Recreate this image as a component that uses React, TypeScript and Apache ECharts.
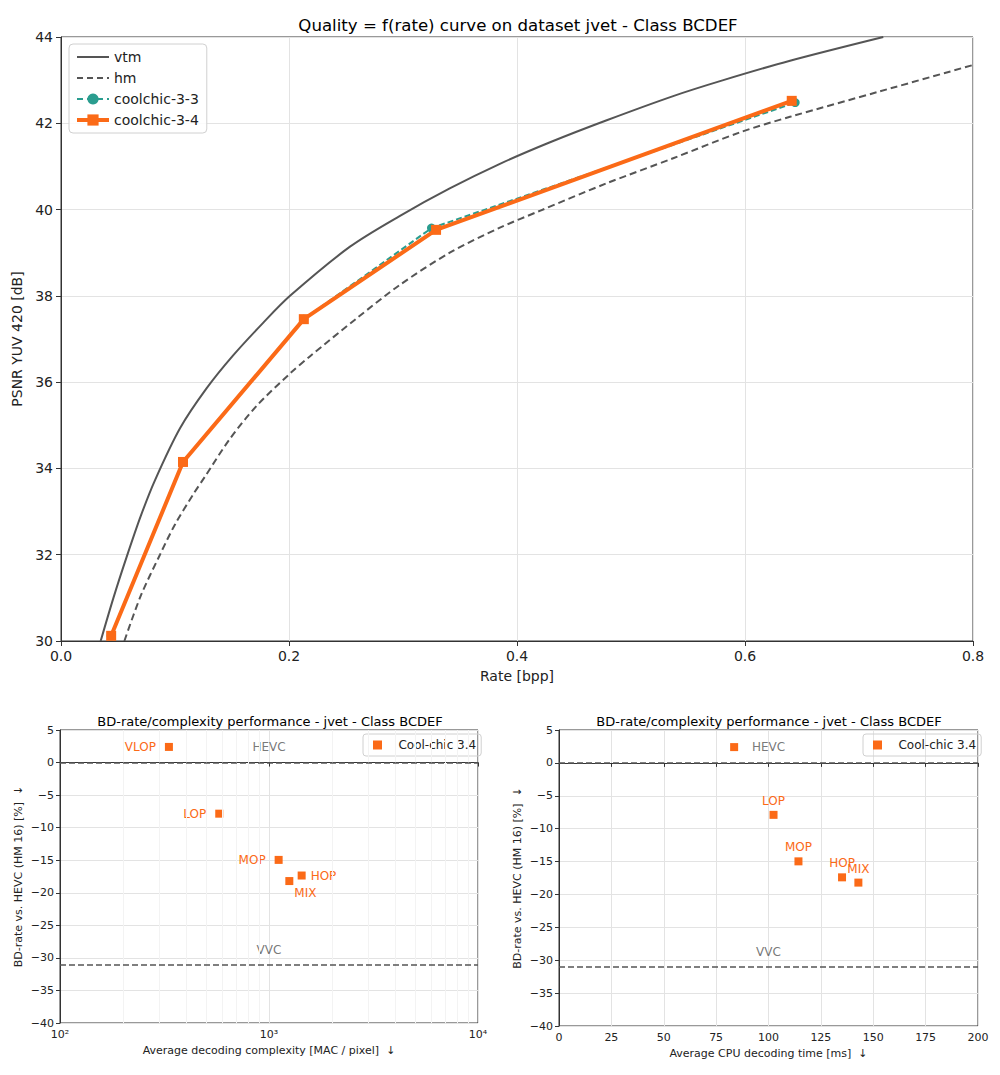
import React, { useEffect, useRef } from "react";
import * as echarts from "echarts";

// ---------- Data ----------
const vtmRate = [0.0348, 0.046, 0.0576, 0.07, 0.0825, 0.1044, 0.1278, 0.151, 0.1775, 0.2009, 0.2535, 0.297, 0.341, 0.385, 0.429, 0.4787, 0.537, 0.581, 0.6395, 0.7213];
const vtmPsnr = [30.0, 31.0, 31.95, 32.9, 33.73, 34.93, 35.86, 36.62, 37.38, 38.0, 39.14, 39.85, 40.49, 41.06, 41.56, 42.07, 42.63, 43.0, 43.45, 44.0];

const hmRate = [0.0556, 0.07, 0.0868, 0.1, 0.116, 0.1263, 0.148, 0.1716, 0.2009, 0.218, 0.2594, 0.297, 0.341, 0.385, 0.42, 0.4787, 0.537, 0.5956, 0.6395, 0.7184, 0.8];
const hmPsnr = [30.0, 31.05, 32.0, 32.7, 33.4, 33.81, 34.68, 35.45, 36.2, 36.59, 37.48, 38.25, 39.0, 39.58, 39.97, 40.61, 41.19, 41.79, 42.15, 42.74, 43.35];

const cc33Rate = [0.044, 0.107, 0.213, 0.325, 0.644];
const cc33Psnr = [30.12, 34.15, 37.46, 39.57, 42.48];

const cc34Rate = [0.044, 0.107, 0.213, 0.329, 0.641];
const cc34Psnr = [30.12, 34.15, 37.46, 39.53, 42.52];

const opNames = ["VLOP", "LOP", "MOP", "HOP", "MIX"];
const macPerPixel = [332, 578, 1112, 1433, 1251];
const bdRateMac = [2.4, -7.85, -14.95, -17.35, -18.2];
const cpuTimeMs = [83.6, 102.4, 114.3, 135.1, 142.9];
const bdRateCpu = [2.4, -7.9, -14.97, -17.4, -18.2];

const macLabelPos = ["left", "left", "left", "right", "bottomRight"];
const cpuLabelPos = ["none", "top", "top", "top", "top"];

const refNames = ["HEVC", "VVC"];
const refBdRate = [0, -31];
const refTextY = [2.4, -28.75];
const refTextMac = [1000, 1000];
const refTextCpu = [100, 100];

const logMinorTicks = [200, 300, 400, 500, 600, 700, 800, 900, 2000, 3000, 4000, 5000, 6000, 7000, 8000, 9000];

const ORANGE = "#fb6a17";
const TEAL = "#2a9d8f";
const GRAY = "#555555";
const GRID = "#e3e3e3";
const FONT = "DejaVu Sans";

const minus = (v: number | string) => String(v).replace("-", "\u2212");
const sup: Record<number, string> = { 2: "\u00b2", 3: "\u00b3", 4: "\u2074" };

function labelCfg(pos: string) {
  const base = { show: true, color: ORANGE, fontSize: 12, fontFamily: FONT, formatter: "{b}" };
  if (pos === "none") return { show: false };
  if (pos === "bottomRight") return { ...base, position: "right", distance: 5, offset: [-4, 12] };
  if (pos === "right") return { ...base, position: "right", distance: 5 };
  if (pos === "left") return { ...base, position: "left", distance: 9 };
  return { ...base, position: pos, distance: 4 };
}

export default function App() {
  const ref = useRef<HTMLDivElement>(null);

  useEffect(() => {
    if (!ref.current) return;
    const chart = echarts.init(ref.current, undefined, { renderer: "svg" });

    const zip = (a: number[], b: number[]) => a.map((v, i) => [v, b[i]]);

    const smallAxisLabel = { color: "#222", fontSize: 11, fontFamily: FONT };
    const bottomYAxis = (gridIndex: number) => ({
      type: "value",
      gridIndex,
      min: -40,
      max: 5,
      interval: 5,
      name: "BD-rate vs. HEVC (HM 16) [%]  \u2193",
      nameLocation: "middle",
      nameGap: 36,
      nameTextStyle: { color: "#222", fontSize: 11, fontFamily: FONT },
      axisLine: { show: true, lineStyle: { color: "#333" } },
      axisTick: { show: true, length: 4, lineStyle: { color: "#333" } },
      axisLabel: { ...smallAxisLabel, margin: 6, formatter: (v: number) => minus(v) },
      splitLine: { show: true, lineStyle: { color: GRID } },
    });

    const refLines = {
      symbol: "none",
      silent: true,
      label: { show: false },
      lineStyle: { type: [6, 3], color: GRAY, width: 1.5 },
      data: refBdRate.map((v) => ({ yAxis: v })),
    };

    const refTextSeries = (xAxisIndex: number, xs: number[]) => ({
      type: "scatter",
      name: "refText",
      xAxisIndex,
      yAxisIndex: xAxisIndex,
      symbolSize: 0,
      silent: true,
      label: { show: true, position: "inside", color: GRAY, fontSize: 12, fontFamily: FONT, formatter: "{b}" },
      data: refNames.map((n, i) => ({ name: n, value: [xs[i], refTextY[i]] })),
      z: 1,
    });

    const smallLegend = (left: number) => ({
      data: [{ name: "Cool-chic 3.4", icon: "rect" }],
      left,
      top: 734,
      padding: [5, 5, 5, 10],
      itemWidth: 9,
      itemHeight: 9,
      borderColor: "#d0d0d0",
      borderWidth: 1,
      borderRadius: 3,
      formatter: "   {name}",
      textStyle: { fontSize: 12, color: "#222", fontFamily: FONT },
    });

    const option: any = {
      animation: false,
      backgroundColor: "#fff",
      textStyle: { fontFamily: FONT },
      title: [
        {
          text: "Quality = f(rate) curve on dataset jvet - Class BCDEF",
          left: 513,
          top: 12,
          textAlign: "center",
          textStyle: { fontSize: 16.6, fontWeight: "normal", color: "#000", fontFamily: FONT },
        },
        {
          text: "BD-rate/complexity performance - jvet - Class BCDEF",
          left: 265,
          top: 710,
          textAlign: "center",
          textStyle: { fontSize: 13, fontWeight: "normal", color: "#000", fontFamily: FONT },
        },
        {
          text: "BD-rate/complexity performance - jvet - Class BCDEF",
          left: 764,
          top: 710,
          textAlign: "center",
          textStyle: { fontSize: 13, fontWeight: "normal", color: "#000", fontFamily: FONT },
        },
      ],
      legend: [
        {
          data: [
            { name: "vtm", itemStyle: { opacity: 0 }, lineStyle: { type: "solid", width: 2, color: GRAY } },
            { name: "hm", itemStyle: { opacity: 0 }, lineStyle: { type: [6, 4], width: 2, color: GRAY } },
            { name: "coolchic-3-3", lineStyle: { type: [6, 4], width: 2, color: TEAL } },
            { name: "coolchic-3-4", lineStyle: { type: "solid", width: 4, color: ORANGE } },
          ],
          orient: "vertical",
          left: 69,
          top: 44,
          padding: [6, 8, 6, 6],
          itemGap: 7,
          itemWidth: 32,
          itemHeight: 14,
          borderColor: "#d0d0d0",
          borderWidth: 1,
          borderRadius: 4,
          backgroundColor: "rgba(255,255,255,0.85)",
          textStyle: { fontSize: 14, color: "#222", fontFamily: FONT },
        },
        smallLegend(363),
        smallLegend(863),
      ],
      grid: [
        { left: 61, top: 37, width: 912, height: 604, show: true, borderColor: "#333", borderWidth: 1, backgroundColor: "transparent" },
        { left: 60, top: 730, width: 418, height: 293, show: true, borderColor: "#333", borderWidth: 1, backgroundColor: "transparent" },
        { left: 559, top: 730, width: 419, height: 296, show: true, borderColor: "#333", borderWidth: 1, backgroundColor: "transparent" },
      ],
      xAxis: [
        {
          type: "value",
          gridIndex: 0,
          min: 0,
          max: 0.8,
          interval: 0.2,
          name: "Rate [bpp]",
          nameLocation: "middle",
          nameGap: 28,
          nameTextStyle: { color: "#222", fontSize: 14, fontFamily: FONT },
          axisLine: { show: true, lineStyle: { color: "#333" } },
          axisTick: { show: true, length: 5, lineStyle: { color: "#333" } },
          axisLabel: { color: "#222", fontSize: 14, fontFamily: FONT, margin: 8, formatter: (v: number) => v.toFixed(1) },
          splitLine: { show: true, lineStyle: { color: GRID } },
        },
        {
          type: "log",
          logBase: 10,
          gridIndex: 1,
          min: 100,
          max: 10000,
          name: "Average decoding complexity [MAC / pixel]  \u2193",
          nameLocation: "middle",
          nameGap: 22,
          nameTextStyle: { color: "#222", fontSize: 11, fontFamily: FONT },
          axisLine: { show: true, lineStyle: { color: "#333" } },
          axisTick: { show: true, length: 4, lineStyle: { color: "#333" } },
          axisLabel: {
            ...smallAxisLabel,
            margin: 6,
            formatter: (v: number) => "10" + (sup[Math.round(Math.log10(v))] || ""),
          },
          splitLine: { show: true, lineStyle: { color: GRID } },
        },
        {
          type: "value",
          gridIndex: 2,
          min: 0,
          max: 200,
          interval: 25,
          name: "Average CPU decoding time [ms]  \u2193",
          nameLocation: "middle",
          nameGap: 22,
          nameTextStyle: { color: "#222", fontSize: 11, fontFamily: FONT },
          axisLine: { show: true, lineStyle: { color: "#333" } },
          axisTick: { show: true, length: 4, lineStyle: { color: "#333" } },
          axisLabel: { ...smallAxisLabel, margin: 6 },
          splitLine: { show: true, lineStyle: { color: GRID } },
        },
      ],
      yAxis: [
        {
          type: "value",
          gridIndex: 0,
          min: 30,
          max: 44,
          interval: 2,
          name: "PSNR YUV 420 [dB]",
          nameLocation: "middle",
          nameGap: 29,
          nameTextStyle: { color: "#222", fontSize: 14, fontFamily: FONT },
          axisLine: { show: true, lineStyle: { color: "#333" } },
          axisTick: { show: true, length: 5, lineStyle: { color: "#333" } },
          axisLabel: { color: "#222", fontSize: 14, fontFamily: FONT, margin: 8 },
          splitLine: { show: true, lineStyle: { color: GRID } },
        },
        bottomYAxis(1),
        bottomYAxis(2),
      ],
      series: [
        {
          type: "line",
          name: "vtm",
          xAxisIndex: 0,
          yAxisIndex: 0,
          data: zip(vtmRate, vtmPsnr),
          symbol: "none",
          smooth: 0.3,
          lineStyle: { color: GRAY, width: 2 },
          itemStyle: { color: GRAY },
          z: 2,
        },
        {
          type: "line",
          name: "hm",
          xAxisIndex: 0,
          yAxisIndex: 0,
          data: zip(hmRate, hmPsnr),
          symbol: "none",
          smooth: 0.3,
          lineStyle: { color: GRAY, width: 2, type: [7, 4] },
          itemStyle: { color: GRAY },
          z: 2,
        },
        {
          type: "line",
          name: "coolchic-3-3",
          xAxisIndex: 0,
          yAxisIndex: 0,
          data: zip(cc33Rate, cc33Psnr),
          symbol: "circle",
          symbolSize: 9,
          showAllSymbol: true,
          lineStyle: { color: TEAL, width: 2, type: [6, 3] },
          itemStyle: { color: TEAL },
          z: 3,
        },
        {
          type: "line",
          name: "coolchic-3-4",
          xAxisIndex: 0,
          yAxisIndex: 0,
          data: zip(cc34Rate, cc34Psnr),
          symbol: "rect",
          symbolSize: 10,
          showAllSymbol: true,
          lineStyle: { color: ORANGE, width: 4 },
          itemStyle: { color: ORANGE },
          z: 4,
        },
        {
          type: "line",
          name: "minorGrid",
          xAxisIndex: 1,
          yAxisIndex: 1,
          data: [],
          silent: true,
          markLine: {
            symbol: "none",
            silent: true,
            label: { show: false },
            lineStyle: { type: "solid", color: "#f3f3f3", width: 1 },
            data: logMinorTicks.map((v) => ({ xAxis: v })),
          },
          z: 0,
        },
        {
          type: "scatter",
          name: "Cool-chic 3.4",
          xAxisIndex: 1,
          yAxisIndex: 1,
          symbol: "rect",
          symbolSize: 8,
          itemStyle: { color: ORANGE, opacity: 1 },
          data: opNames.map((n, i) => ({ name: n, value: [macPerPixel[i], bdRateMac[i]], label: labelCfg(macLabelPos[i]) })),
          markLine: refLines,
          z: 3,
        },
        refTextSeries(1, refTextMac),
        {
          type: "scatter",
          name: "Cool-chic 3.4",
          xAxisIndex: 2,
          yAxisIndex: 2,
          symbol: "rect",
          symbolSize: 8,
          itemStyle: { color: ORANGE, opacity: 1 },
          data: opNames.map((n, i) => ({ name: n, value: [cpuTimeMs[i], bdRateCpu[i]], label: labelCfg(cpuLabelPos[i]) })),
          markLine: refLines,
          z: 3,
        },
        refTextSeries(2, refTextCpu),
      ],
    };

    chart.setOption(option);
    return () => chart.dispose();
  }, []);

  return <div ref={ref} style={{ position: "absolute", left: 0, top: 0, width: 1000, height: 1075 }} />;
}
